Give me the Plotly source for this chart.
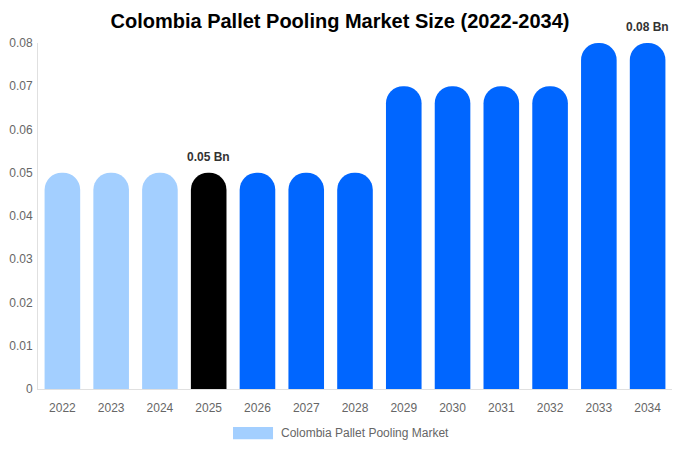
import plotly.graph_objects as go

years = [str(y) for y in range(2022, 2035)]
values = [0.05, 0.05, 0.05, 0.05, 0.05, 0.05, 0.05, 0.07, 0.07, 0.07, 0.07, 0.08, 0.08]
bar_colors = ["#a3cfff"] * 3 + ["#000000"] + ["#0066ff"] * 9
labels = {"2025": "0.05 Bn", "2034": "0.08 Bn"}
series_name = "Colombia Pallet Pooling Market"

fig = go.Figure(
    go.Bar(
        x=years,
        y=values,
        marker=dict(color=bar_colors, cornerradius="50%", line=dict(width=0)),
        width=0.73,
        showlegend=False,
        hoverinfo="x+y",
    )
)

# value labels above highlighted bars (x given as category index)
for yr, txt in labels.items():
    i = years.index(yr)
    fig.add_annotation(
        x=i,
        y=values[i],
        text=f"<b>{txt}</b>",
        showarrow=False,
        yshift=16,
        font=dict(size=12, color="#333333"),
    )

# legend swatch + label drawn manually (wide chart-style swatch)
fig.add_shape(
    type="rect", xref="paper", yref="paper",
    x0=0.3076, x1=0.3707, y0=-0.110, y1=-0.145,
    fillcolor="#a3cfff", line=dict(width=0),
)
fig.add_annotation(
    xref="paper", yref="paper", x=0.380, y=-0.127,
    text=series_name, showarrow=False, xanchor="left", yanchor="middle",
    font=dict(size=12, color="#666666"),
)

# sized to fit inside the page body (8px margin) so nothing scrolls or clips
fig.update_layout(
    title=dict(
        text="<b>Colombia Pallet Pooling Market Size (2022-2034)</b>",
        x=0.5, xanchor="center", y=0.970, yanchor="middle",
        font=dict(size=20, color="#000000", family="Liberation Sans, Arial"),
    ),
    width=664,
    height=434,
    margin=dict(l=30, r=0, t=35, b=53, autoexpand=False),
    paper_bgcolor="white",
    plot_bgcolor="white",
    font=dict(family="Liberation Sans, Arial", size=12, color="#666666"),
    xaxis=dict(
        type="category", range=[-0.5, len(years) - 0.5], showgrid=False,
        showline=True, linecolor="#e0e0e0", linewidth=1, ticks="",
        automargin=False, ticklabelstandoff=8,
        tickfont=dict(size=12, color="#666666"),
    ),
    yaxis=dict(
        range=[0, 0.08], dtick=0.01, showgrid=False, zeroline=False,
        showline=True, linecolor="#e0e0e0", linewidth=1, ticks="",
        automargin=False, ticklabelstandoff=2,
        tickfont=dict(size=12, color="#666666"),
    ),
)

fig.write_html("out.html")
